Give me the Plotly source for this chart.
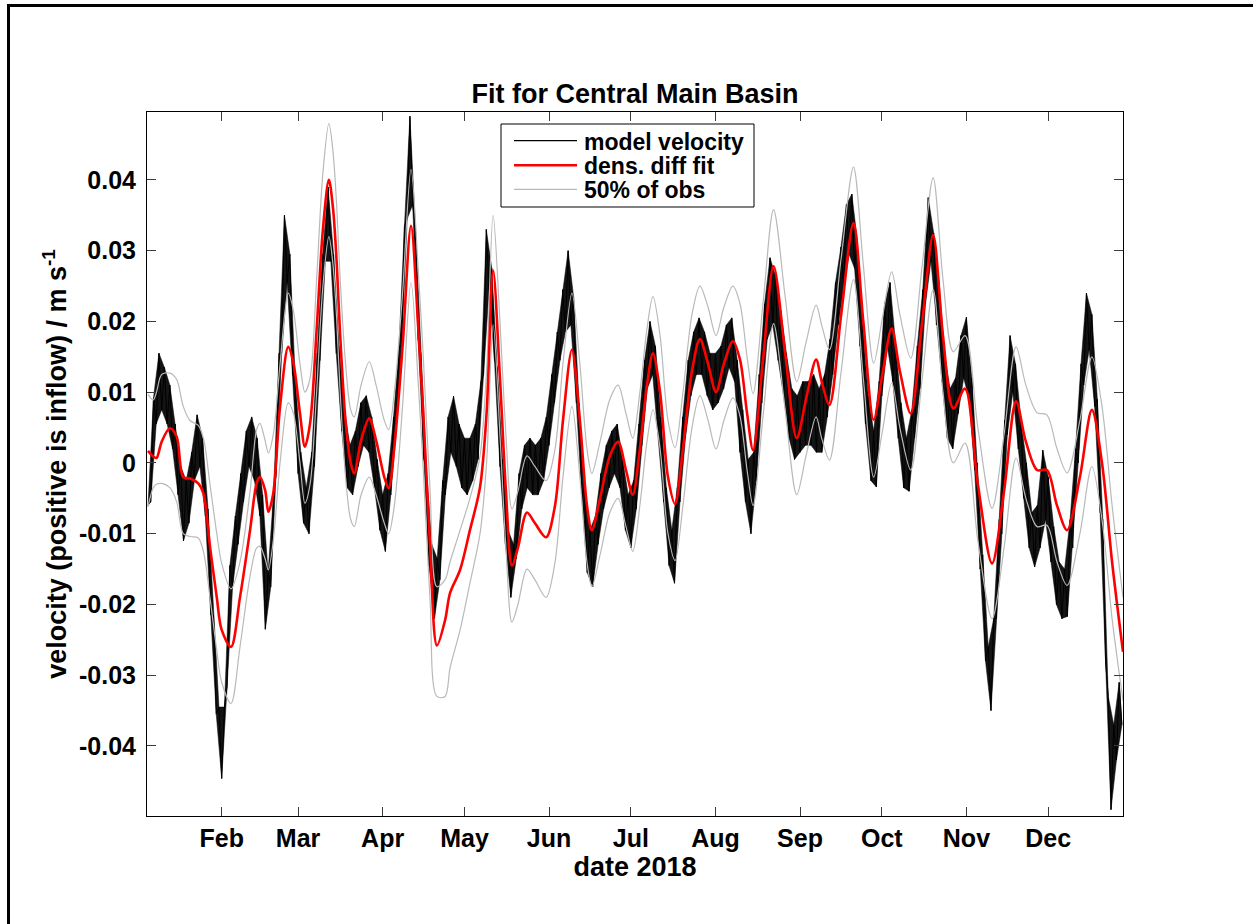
import pandas as pd
import plotly.graph_objects as go

YEAR_START = pd.Timestamp("2018-01-01")

# ---- model velocity: upper edge of the tidal band on even days, lower edge on odd days ----
model_hi_days = list(range(4, 361, 2))
model_hi = [
    -0.006, 0.0092, 0.0155, 0.0135, 0.011, 0.0055, -0.0005, -0.0025, 0.0015, 0.0068,
    0.0035, -0.0065, -0.0215, -0.0345, -0.0345, -0.0145, -0.0075, -0.0015, 0.0045, 0.0065,
    0.0035, -0.0045, -0.0155, -0.0045, 0.0155, 0.035, 0.0295, 0.0115, 0.0015, -0.0035,
    0.0015, 0.0155, 0.0295, 0.039, 0.0295, 0.0165, 0.0075, 0.0025, 0.0045, 0.0085,
    0.0095, 0.0065, 0.0005, -0.0045, -0.0015, 0.0065, 0.0165, 0.0335, 0.049, 0.0335,
    0.0155, -0.0005, -0.0115, -0.0135, -0.0025, 0.0065, 0.0094, 0.0055, 0.0035, 0.0035,
    0.0055, 0.0115, 0.033, 0.0275, 0.0135, 0.0005, -0.0095, -0.0115, -0.0015, 0.0025,
    0.0035, 0.0025, 0.0035, 0.0065, 0.0125, 0.0185, 0.0245, 0.030, 0.0235, 0.0085,
    -0.0035, -0.0095, -0.0075, -0.0015, 0.0025, 0.0045, 0.0055, 0.0005, -0.0045, -0.0025,
    0.0055, 0.0145, 0.020, 0.0165, 0.0065, -0.0035, -0.0095, -0.0035, 0.0065, 0.0145,
    0.0185, 0.0205, 0.0185, 0.0155, 0.0155, 0.0165, 0.0195, 0.0205, 0.0145, 0.0075,
    0.0005, 0.0015, 0.0125, 0.0225, 0.029, 0.0265, 0.0215, 0.0155, 0.0105, 0.0095,
    0.0115, 0.0115, 0.0125, 0.0105, 0.0125, 0.0175, 0.0255, 0.0305, 0.0365, 0.038,
    0.0315, 0.0195, 0.0095, 0.0045, 0.0115, 0.0225, 0.0255, 0.0165, 0.0085, 0.0035,
    0.0075, 0.0165, 0.0245, 0.0375, 0.0325, 0.0255, 0.0155, 0.0105, 0.012, 0.018,
    0.0206, 0.012, 0.0, -0.013, -0.026, -0.022, -0.008, 0.006, 0.018, 0.014,
    0.006, 0.0, -0.007, -0.006, 0.0018, -0.002, -0.009, -0.014, -0.015, -0.008,
    0.002, 0.014, 0.024, 0.021, 0.009, -0.008, -0.033, -0.037, -0.031,
]
model_lo_days = list(range(5, 362, 2))
model_lo = [
    -0.0055, 0.0055, 0.0075, 0.0055, 0.002, -0.0045, -0.011, -0.0085, -0.0025, -0.0005,
    -0.0075, -0.0215, -0.0355, -0.0446, -0.0315, -0.0175, -0.0115, -0.0055, -0.0005, -0.0025,
    -0.0075, -0.0235, -0.0175, -0.0015, 0.0155, 0.0255, 0.0125, -0.0015, -0.0085, -0.010,
    -0.0005, 0.0145, 0.0285, 0.0285, 0.0155, 0.0045, -0.0035, -0.0045, -0.0005, 0.0025,
    0.0015, -0.0035, -0.0095, -0.0125, -0.0045, 0.0045, 0.0165, 0.0345, 0.0365, 0.0175,
    0.0005, -0.0145, -0.022, -0.0165, -0.0045, 0.0015, -0.0005, -0.0035, -0.0045, -0.0025,
    0.0005, 0.0125, 0.0245, 0.0145, -0.0005, -0.0115, -0.019, -0.0135, -0.0065, -0.0035,
    -0.0045, -0.0045, -0.0025, 0.0025, 0.0085, 0.0145, 0.0185, 0.0195, 0.0085, -0.0045,
    -0.0155, -0.0175, -0.0115, -0.0065, -0.0035, -0.0015, -0.0035, -0.0095, -0.012, -0.0065,
    0.0025, 0.0105, 0.0125, 0.0045, -0.0055, -0.0145, -0.017, -0.0055, 0.0035, 0.0095,
    0.0125, 0.0125, 0.0095, 0.0075, 0.0085, 0.0105, 0.0135, 0.0115, 0.0015, -0.0055,
    -0.010, -0.0025, 0.0085, 0.0175, 0.0195, 0.0145, 0.0095, 0.0035, 0.0005, 0.0015,
    0.0025, 0.0025, 0.0015, 0.0015, 0.0065, 0.0125, 0.0195, 0.0245, 0.0295, 0.0275,
    0.0165, 0.0055, -0.0025, -0.0034, 0.0095, 0.0165, 0.0115, 0.0035, -0.0035, -0.004,
    0.0035, 0.0105, 0.0225, 0.0285, 0.0195, 0.0115, 0.0035, 0.002, 0.007, 0.012,
    0.009, -0.001, -0.015, -0.028, -0.035, -0.022, -0.010, 0.004, 0.010, 0.002,
    -0.005, -0.012, -0.0147, -0.012, -0.008, -0.014, -0.020, -0.022, -0.0217, -0.012,
    0.0, 0.011, 0.016, 0.008, -0.007, -0.028, -0.049, -0.042, -0.037,
]

# ---- density-difference fit and the 50 % band of observations ----
fit_days = [
    4.0, 5.9, 7.1, 9.0, 12.0, 14.5, 16.9, 19.4, 22.4, 24.3,
    26.7, 29.2, 31.0, 34.4, 37.7, 41.4, 43.8, 45.0, 46.9, 48.1,
    49.9, 52.4, 55.4, 57.3, 59.7, 61.5, 63.4, 65.8, 68.1, 70.3,
    71.8, 73.2, 74.3, 76.4, 78.3, 79.6, 82.1, 85.1, 87.6, 90.6,
    92.2, 94.3, 97.3, 100.4, 103.1, 104.9, 107.4, 109.9, 112.9, 114.7,
    118.4, 122.0, 125.7, 128.1, 130.5, 133.0, 135.2, 137.4, 139.6, 142.9,
    145.8, 149.9, 153.2, 156.1, 159.4, 162.3, 164.9, 166.7, 169.7, 173.3,
    176.3, 179.2, 181.7, 184.3, 186.9, 189.1, 191.7, 194.6, 197.2, 200.1,
    203.4, 206.3, 209.3, 212.2, 215.1, 218.4, 221.0, 223.6, 225.8, 229.5,
    233.3, 237.5, 241.8, 245.2, 248.9, 251.0, 253.8, 258.1, 262.6, 266.2,
    270.0, 273.2, 276.6, 279.6, 283.6, 287.7, 291.8, 295.4, 299.2, 303.5,
    308.2, 313.4, 317.8, 322.2, 325.8, 329.9, 333.5, 337.2, 340.9, 345.6,
    350.0, 353.7, 357.4, 361.4,
]
fit_vel = [
    0.0017, 0.0009, 0.0007, 0.0030, 0.0049, 0.0037, -0.0020, -0.0022, -0.0029, -0.0043,
    -0.0118, -0.0190, -0.0236, -0.0260, -0.0190, -0.0095, -0.0029, -0.0020, -0.0038, -0.0069,
    -0.0043, 0.0080, 0.0164, 0.0141, 0.0070, 0.0023, 0.0056, 0.0188, 0.0330, 0.0400,
    0.0360, 0.0280, 0.0190, 0.0060, 0.0000, -0.0015, 0.0032, 0.0063, 0.0032, -0.0020,
    -0.0036, 0.0023, 0.0164, 0.0335, 0.0188, 0.0070, -0.0118, -0.0258, -0.0222, -0.0184,
    -0.0151, -0.0095, -0.0034, 0.0070, 0.0272, 0.0120, -0.0040, -0.0145, -0.0120, -0.0070,
    -0.0085, -0.0105, -0.0060, 0.0060, 0.0160, 0.0060, -0.0060, -0.0095, -0.0050, 0.0010,
    0.0030, -0.0010, -0.0045, 0.0020, 0.0110, 0.0155, 0.0100, -0.0020, -0.0058, 0.0020,
    0.0130, 0.0175, 0.0140, 0.0100, 0.0140, 0.0172, 0.0146, 0.0070, 0.0018, 0.0148,
    0.0278, 0.0157, 0.0035, 0.0090, 0.0146, 0.0114, 0.0082, 0.0210, 0.0339, 0.0200,
    0.0061, 0.0125, 0.0190, 0.0130, 0.0070, 0.0196, 0.0322, 0.0180, 0.0077, 0.0105,
    -0.0030, -0.0142, -0.0040, 0.0087, 0.0030, -0.0010, -0.0010, -0.0060, -0.0095, -0.0020,
    0.0075, 0.0000, -0.0140, -0.0267,
]
obs_upper = [
    0.0097, 0.0089, 0.0100, 0.0125, 0.0127, 0.0118, 0.0080, 0.0060, 0.0053, 0.0035,
    -0.0030, -0.0100, -0.0142, -0.0178, -0.0140, -0.0040, 0.0047, 0.0056, 0.0032, 0.0014,
    0.0040, 0.0140, 0.0240, 0.0215, 0.0140, 0.0100, 0.0120, 0.0260, 0.0410, 0.0480,
    0.0440, 0.0360, 0.0270, 0.0140, 0.0075, 0.0065, 0.0110, 0.0143, 0.0110, 0.0060,
    0.0047, 0.0100, 0.0240, 0.0415, 0.0270, 0.0150, -0.0040, -0.0175, -0.0165, -0.0140,
    -0.0095, -0.0050, 0.0010, 0.0130, 0.0350, 0.0200, 0.0040, -0.0065, -0.0040, 0.0010,
    -0.0005, -0.0025, 0.0020, 0.0140, 0.0240, 0.0140, 0.0020, -0.0015, 0.0030, 0.0090,
    0.0110, 0.0070, 0.0035, 0.0100, 0.0190, 0.0235, 0.0180, 0.0060, 0.0022, 0.0100,
    0.0210, 0.0250, 0.0220, 0.0180, 0.0220, 0.0250, 0.0225, 0.0150, 0.0098, 0.0228,
    0.0358, 0.0237, 0.0115, 0.0170, 0.0223, 0.0194, 0.0160, 0.0290, 0.0418, 0.0280,
    0.0141, 0.0205, 0.0270, 0.0210, 0.0148, 0.0276, 0.0403, 0.0260, 0.0157, 0.0180,
    0.0050, -0.0064, 0.0040, 0.0164, 0.0110, 0.0071, 0.0068, 0.0020, -0.0014, 0.0060,
    0.0150, 0.0080, -0.0060, -0.0190,
]
obs_lower = [
    -0.0062, -0.0035, -0.0030, -0.0029, -0.0035, -0.0055, -0.0100, -0.0104, -0.0106, -0.0125,
    -0.0190, -0.0265, -0.0310, -0.0340, -0.0260, -0.0160, -0.0120, -0.0118, -0.0135, -0.0151,
    -0.0110, 0.0000, 0.0085, 0.0070, 0.0000, -0.0057, -0.0030, 0.0100, 0.0250, 0.0320,
    0.0280, 0.0200, 0.0110, -0.0020, -0.0080, -0.0090, -0.0045, -0.0020, -0.0045, -0.0085,
    -0.0100, -0.0060, 0.0080, 0.0255, 0.0110, -0.0010, -0.0195, -0.0330, -0.0330, -0.0290,
    -0.0236, -0.0170, -0.0100, 0.0000, 0.0195, 0.0040, -0.0120, -0.0225, -0.0200, -0.0150,
    -0.0165, -0.0190, -0.0140, -0.0020, 0.0080, -0.0020, -0.0140, -0.0175, -0.0130, -0.0070,
    -0.0050, -0.0090, -0.0125, -0.0060, 0.0030, 0.0075, 0.0020, -0.0100, -0.0138, -0.0060,
    0.0050, 0.0095, 0.0060, 0.0020, 0.0060, 0.0092, 0.0066, -0.0010, -0.0060, 0.0068,
    0.0197, 0.0077, -0.0045, 0.0010, 0.0065, 0.0034, 0.0004, 0.0130, 0.0259, 0.0120,
    -0.0020, 0.0045, 0.0113, 0.0050, -0.0010, 0.0116, 0.0245, 0.0100, 0.0000, 0.0028,
    -0.0110, -0.0220, -0.0120, 0.0007, -0.0050, -0.0090, -0.0088, -0.0140, -0.0173, -0.0100,
    -0.0005, -0.0080, -0.0220, -0.0336,
]

# ---- axes ----
month_ticks = ["2018-02-01", "2018-03-01", "2018-04-01", "2018-05-01", "2018-06-01",
               "2018-07-01", "2018-08-01", "2018-09-01", "2018-10-01", "2018-11-01",
               "2018-12-01"]
month_labels = ["Feb", "Mar", "Apr", "May", "Jun", "Jul", "Aug", "Sep", "Oct", "Nov", "Dec"]
vel_ticks = [-0.04, -0.03, -0.02, -0.01, 0.0, 0.01, 0.02, 0.03, 0.04]
vel_labels = ["-0.04", "-0.03", "-0.02", "-0.01", "0", "0.01", "0.02", "0.03", "0.04"]
x_range_days = [3.62, 361.4]
y_range = [-0.0499, 0.0496]

legend_names = ["model velocity", "dens. diff fit", "50% of obs"]

FONT = "Liberation Sans, Arial, Helvetica, sans-serif"
BLACK, RED, GRAY = "black", "rgb(255,0,0)", "rgb(185,185,185)"


def to_dates(days):
    return [YEAR_START + pd.Timedelta(days=float(d)) for d in days]


# plot-area geometry in pixels, used to place the frame and the legend box
PLOT_L, PLOT_R, PLOT_T, PLOT_B = 147, 1123, 112, 816


def px_x(px):
    return (px - PLOT_L) / (PLOT_R - PLOT_L)


def px_y(py):
    return (PLOT_B - py) / (PLOT_B - PLOT_T)


# interleave band edges so the trace zig-zags like the tidal signal
model_days, model_vel = [], []
for dh, vh, dl, vl in zip(model_hi_days, model_hi, model_lo_days, model_lo):
    model_days += [dh, dl]
    model_vel += [vh, vl]

fit_dates = to_dates(fit_days)

fig = go.Figure()
# solid body of the tidal band
fig.add_trace(go.Scatter(
    x=to_dates(model_hi_days + model_lo_days[::-1]),
    y=model_hi + model_lo[::-1],
    mode="lines", fill="toself", fillcolor="rgba(0,0,0,0.92)",
    line=dict(color="black", width=0.5), showlegend=False, hoverinfo="skip",
))
fig.add_trace(go.Scatter(
    x=to_dates(model_days), y=model_vel, mode="lines", name=legend_names[0],
    line=dict(color=BLACK, width=1), showlegend=False,
))
for band in (obs_upper, obs_lower):
    fig.add_trace(go.Scatter(
        x=fit_dates, y=band, mode="lines", name=legend_names[2], showlegend=False,
        line=dict(color=GRAY, width=1.2, shape="spline", smoothing=0.9),
    ))
fig.add_trace(go.Scatter(
    x=fit_dates, y=fit_vel, mode="lines", name=legend_names[1], showlegend=False,
    line=dict(color=RED, width=2.6, shape="spline", smoothing=0.9),
))

axis_common = dict(
    showgrid=False, zeroline=False, showline=True, linecolor="black", linewidth=1,
    mirror="ticks", ticks="inside", ticklen=9, tickcolor="rgb(60,60,60)", tickwidth=1,
    tickfont=dict(family=FONT, size=25, color="black", weight="bold"),
)

# legend box drawn in the upper middle of the axes
legend_rows_y = [140.7, 165.3, 189.3]
legend_styles = [(BLACK, 1.2), (RED, 2.6), (GRAY, 1.2)]
shapes = [
    dict(type="rect", xref="paper", yref="paper",
         x0=px_x(501), x1=px_x(754), y0=px_y(207), y1=px_y(124),
         line=dict(color="black", width=1), fillcolor="white", layer="above"),
]
annotations = []
for name, ry, (col, w) in zip(legend_names, legend_rows_y, legend_styles):
    shapes.append(dict(type="line", xref="paper", yref="paper",
                       x0=px_x(514), x1=px_x(577), y0=px_y(ry), y1=px_y(ry),
                       line=dict(color=col, width=w), layer="above"))
    annotations.append(dict(text=name, xref="paper", yref="paper",
                            x=px_x(582), y=px_y(ry + 1), xanchor="left", yanchor="middle",
                            showarrow=False,
                            font=dict(family=FONT, size=23, color="black", weight="bold")))

# figure frame along the left and top edges
shapes += [
    dict(type="line", xref="paper", yref="paper",
         x0=px_x(8.5), x1=px_x(8.5), y0=px_y(5), y1=px_y(930),
         line=dict(color="black", width=3)),
    dict(type="line", xref="paper", yref="paper",
         x0=px_x(7), x1=px_x(1260), y0=px_y(5.5), y1=px_y(5.5),
         line=dict(color="black", width=3)),
]

fig.update_layout(
    width=1253, height=924,
    margin=dict(l=PLOT_L, r=1253 - PLOT_R, t=PLOT_T, b=924 - PLOT_B, autoexpand=False),
    paper_bgcolor="white", plot_bgcolor="white",
    showlegend=False,
    title=dict(
        text="Fit for Central Main Basin", x=(635 / 1253), xref="container", xanchor="center",
        y=1 - 94 / 924, yref="container", yanchor="middle",
        font=dict(family=FONT, size=27, color="black", weight="bold"),
    ),
    xaxis=dict(
        axis_common, type="date",
        range=to_dates(x_range_days),
        tickvals=month_ticks, ticktext=month_labels,
        title=dict(text="date 2018", standoff=2,
                   font=dict(family=FONT, size=27, color="black", weight="bold")),
    ),
    yaxis=dict(
        axis_common, range=y_range,
        tickvals=vel_ticks, ticktext=vel_labels, ticklabelstandoff=5,
        title=dict(text="velocity (positive is inflow) / m s<sup>-1</sup>", standoff=4,
                   font=dict(family=FONT, size=27, color="black", weight="bold")),
    ),
    shapes=shapes,
    annotations=annotations,
)

fig.write_html("out.html")
